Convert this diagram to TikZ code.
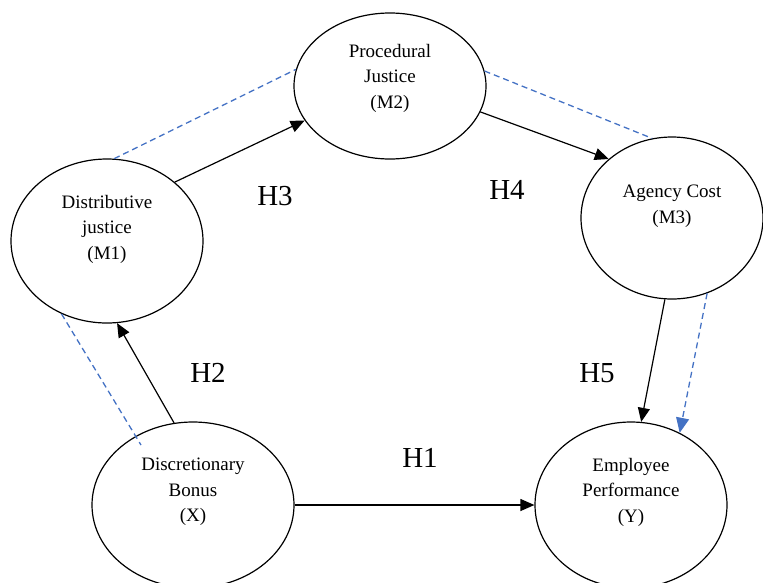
\documentclass[tikz,border=0pt]{standalone}
\usepackage{fontspec}
\setmainfont{Liberation Serif}
\usetikzlibrary{shapes.geometric,arrows.meta,calc}
\definecolor{dblue}{RGB}{68,114,196}
\begin{document}
\begin{tikzpicture}[x=1pt,y=-1pt,
  ell/.style={draw,ellipse,line width=1.2pt,inner sep=0pt},
  txt/.style={align=center,font=\fontsize{19}{25.5}\selectfont},
  hlab/.style={font=\fontsize{29}{30}\selectfont},
  conn/.style={line width=1.2pt,-{Triangle[width=12pt,length=14pt]}},
  dsh/.style={dblue,line width=1.3pt,dash pattern=on 6pt off 4pt}]
\useasboundingbox (0,0) rectangle (763,582);
\node[ell,minimum width=192pt,minimum height=164pt] (m1) at (107,241) {};
\node[ell,minimum width=192pt,minimum height=146pt] (m2) at (390,86) {};
\node[ell,minimum width=182pt,minimum height=162pt] (m3) at (672,218) {};
\node[ell,minimum width=202pt,minimum height=166pt] (x) at (193,505) {};
\node[ell,minimum width=192pt,minimum height=166pt] (y) at (631,505) {};
\node[txt] (t1) at ([yshift=12pt]m1.center) {Distributive\\justice\\(M1)};
\node[txt] (t2) at ([yshift=8pt]m2.center) {Procedural\\Justice\\(M2)};
\node[txt] (t3) at ([yshift=12pt]m3.center) {Agency Cost\\(M3)};
\node[txt] (tx) at ([yshift=13pt]x.center) {Discretionary\\Bonus\\(X)};
\node[txt] (ty) at ([yshift=13pt]y.center) {Employee\\Performance\\(Y)};
\node[hlab] (h1) at (420,458) {H1};
\node[hlab] (h2) at (208,373) {H2};
\node[hlab] (h3) at (275,196) {H3};
\node[hlab] (h4) at (507,190) {H4};
\node[hlab] (h5) at (597,373) {H5};
\draw[conn] (x.103) -- (m1.277.7);
\draw[conn] (m1.41.8) -- (m2.202.9);
\draw[conn] (m2.344.5) -- (m3.137.4);
\draw[conn] (m3.265) -- (y.83.9);
\draw[conn] (x.east) -- (y.west);
\coordinate (dxend) at ($(x.center)+(-52,-60)$);
\draw[dsh] (m1.85.9) -- (m2.170.3);
\draw[dsh] (m2.9.6) -- (m3.104);
\draw[dsh] (m1.238.6) -- (dxend);
\draw[dsh,-{Triangle[width=13pt,length=15pt]}] (m3.295.4) -- (y.56);
\end{tikzpicture}
\end{document}
